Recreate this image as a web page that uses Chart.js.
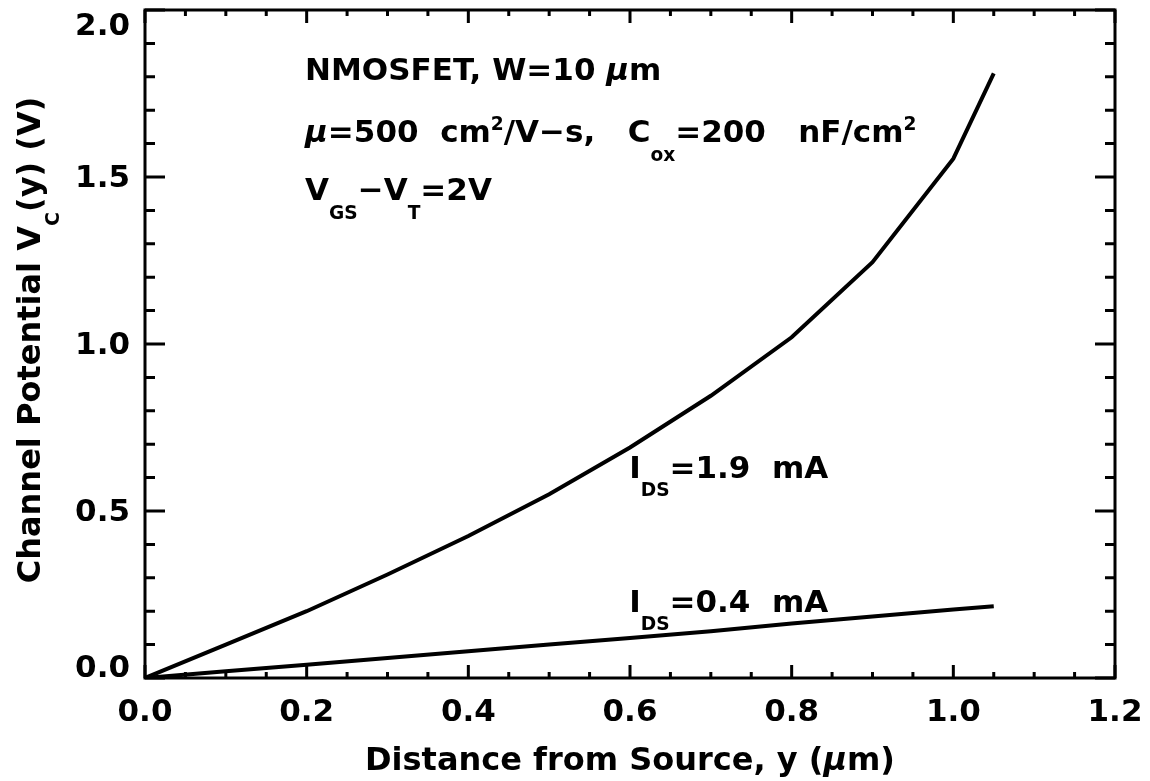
<!DOCTYPE html>
<html>
<head>
<meta charset="utf-8">
<script src="https://cdn.jsdelivr.net/npm/chart.js@4.4.1/dist/chart.umd.min.js"></script>
<style>
  html, body { margin: 0; padding: 0; background: #fff; }
</style>
</head>
<body>
<canvas id="chart" width="1150" height="781"></canvas>
<script>
// distance from source y (um)
const distance = [0, 0.1, 0.2, 0.3, 0.4, 0.5, 0.6, 0.7, 0.8, 0.9, 1.0, 1.05]
// channel potential (V) for each drain current
const vcHigh = [0, 0.10, 0.20, 0.31, 0.425, 0.55, 0.69, 0.845, 1.02, 1.245, 1.555, 1.81]
const vcLow = [0, 0.02, 0.04, 0.06, 0.08, 0.10, 0.12, 0.14, 0.163, 0.184, 0.205, 0.215]
const xTicks = [0, 0.2, 0.4, 0.6, 0.8, 1.0, 1.2]
const yTicks = [0, 0.5, 1.0, 1.5, 2.0]

const FONT = '"DejaVu Sans", sans-serif'
const SIZE = 31

function points(ys) {
  return distance.map((x, i) => ({ x: x, y: ys[i] }))
}

// text made of parts [text, mode]; mode: n, sub, sup, it
function partFont(mode, size) {
  const fs = (mode === 'sub' || mode === 'sup') ? size * 0.6 : size
  return `${mode === 'it' ? 'italic ' : ''}bold ${fs}px ${FONT}`
}

function partWidth(ctx, parts, size) {
  let w = 0
  parts.forEach(p => {
    ctx.font = partFont(p[1] || 'n', size)
    w += ctx.measureText(p[0]).width
  })
  return w
}

function richText(ctx, parts, x, y, size) {
  let cx = x
  parts.forEach(p => {
    const mode = p[1] || 'n'
    let dy = 0
    if (mode === 'sub') dy = size * 0.6
    if (mode === 'sup') dy = -size * 0.4
    ctx.font = partFont(mode, size)
    ctx.fillText(p[0], cx, y + dy)
    cx += ctx.measureText(p[0]).width
  })
}

const framePlugin = {
  id: 'frame',
  afterDatasetsDraw: chart => {
    const ctx = chart.ctx
    const a = chart.chartArea
    const xs = chart.scales.x
    const ys = chart.scales.y
    ctx.save()
    ctx.strokeStyle = '#000'
    ctx.lineWidth = 3
    ctx.strokeRect(a.left, a.top, a.right - a.left, a.bottom - a.top)

    // inward ticks on all four sides
    ctx.beginPath()
    for (let i = 0; i <= 24; i++) {
      const px = xs.getPixelForValue(i * 0.05)
      const len = i % 4 === 0 ? 13 : 6
      ctx.moveTo(px, a.bottom); ctx.lineTo(px, a.bottom - len)
      ctx.moveTo(px, a.top); ctx.lineTo(px, a.top + len)
    }
    for (let i = 0; i <= 20; i++) {
      const py = ys.getPixelForValue(i * 0.1)
      const len = i % 5 === 0 ? 20 : 10
      ctx.moveTo(a.left, py); ctx.lineTo(a.left + len, py)
      ctx.moveTo(a.right, py); ctx.lineTo(a.right - len, py)
    }
    ctx.stroke()

    ctx.fillStyle = '#000'

    // y tick labels, end labels nudged inside the frame
    ctx.font = `bold ${SIZE}px ${FONT}`
    ctx.textAlign = 'right'
    ctx.textBaseline = 'middle'
    yTicks.forEach(v => {
      let py = ys.getPixelForValue(v)
      if (v === yTicks[0]) py -= 11
      if (v === yTicks[yTicks.length - 1]) py += 15
      ctx.fillText(v.toFixed(1), a.left - 15, py + 2)
    })

    ctx.textBaseline = 'alphabetic'
    ctx.textAlign = 'left'
    const at = (x, y) => [xs.getPixelForValue(x), ys.getPixelForValue(y)]

    let p = at(0.198, 1.79)
    richText(ctx, [['NMOSFET, W=10 '], ['μ', 'it'], ['m']], p[0], p[1], SIZE)
    p = at(0.198, 1.605)
    richText(ctx, [
      ['μ', 'it'], ['=500  cm'], ['2', 'sup'], ['/V−s,   C'], ['ox', 'sub'], ['=200   nF/cm'], ['2', 'sup']
    ], p[0], p[1], SIZE)
    p = at(0.198, 1.43)
    richText(ctx, [['V'], ['GS', 'sub'], ['−V'], ['T', 'sub'], ['=2V']], p[0], p[1], SIZE)

    p = at(0.599, 0.6)
    richText(ctx, [['I'], ['DS', 'sub'], ['=1.9  mA']], p[0], p[1], SIZE)
    p = at(0.599, 0.198)
    richText(ctx, [['I'], ['DS', 'sub'], ['=0.4  mA']], p[0], p[1], SIZE)

    // axis titles
    const titleSize = 32
    const xParts = [['Distance from Source, y ('], ['μ', 'it'], ['m)']]
    const xw = partWidth(ctx, xParts, titleSize)
    richText(ctx, xParts, (a.left + a.right) / 2 - xw / 2, 770, titleSize)

    ctx.save()
    ctx.translate(40, 340)
    ctx.rotate(-Math.PI / 2)
    const yParts = [['Channel Potential V'], ['C', 'sub'], ['(y) (V)']]
    const yw = partWidth(ctx, yParts, titleSize)
    richText(ctx, yParts, -yw / 2, 0, titleSize)
    ctx.restore()

    ctx.restore()
  }
}

new Chart(document.getElementById('chart'), {
  type: 'line',
  data: {
    datasets: [
      {
        label: 'IDS=1.9 mA',
        data: points(vcHigh),
        borderColor: '#000',
        borderWidth: 4,
        pointRadius: 0,
        tension: 0,
        fill: false
      },
      {
        label: 'IDS=0.4 mA',
        data: points(vcLow),
        borderColor: '#000',
        borderWidth: 4,
        pointRadius: 0,
        tension: 0,
        fill: false
      }
    ]
  },
  options: {
    responsive: false,
    animation: false,
    devicePixelRatio: 1,
    layout: { padding: { top: 10, right: 35, left: 0, bottom: 0 } },
    plugins: {
      legend: { display: false },
      tooltip: { enabled: false }
    },
    scales: {
      x: {
        type: 'linear',
        min: 0,
        max: 1.2,
        afterFit: s => { s.height = 103; s.paddingLeft = 0; s.paddingRight = 0 },
        afterBuildTicks: s => { s.ticks = xTicks.map(v => ({ value: v })) },
        grid: { display: false, drawTicks: false },
        border: { display: false },
        ticks: {
          padding: 16,
          maxRotation: 0,
          color: '#000',
          font: { family: FONT, size: SIZE, weight: 'bold' },
          callback: v => v.toFixed(1)
        }
      },
      y: {
        type: 'linear',
        min: 0,
        max: 2.0,
        afterFit: s => { s.width = 145; s.paddingTop = 0; s.paddingBottom = 0 },
        afterBuildTicks: s => { s.ticks = yTicks.map(v => ({ value: v })) },
        grid: { display: false, drawTicks: false },
        border: { display: false },
        ticks: { display: false }
      }
    }
  },
  plugins: [framePlugin]
})
</script>
</body>
</html>
